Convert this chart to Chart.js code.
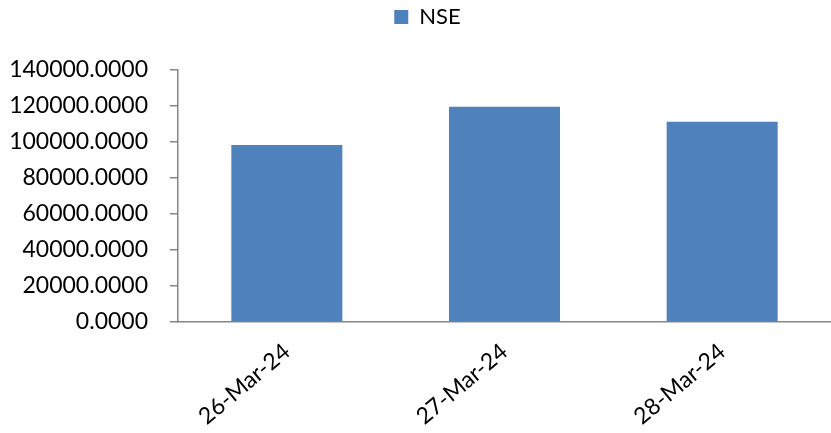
<!DOCTYPE html>
<html>
<head>
<meta charset="utf-8">
<script src="https://cdn.jsdelivr.net/npm/chart.js@4/dist/chart.umd.min.js"></script>
<style>
  html, body { margin: 0; padding: 0; background: #fff; }
  #wrap { width: 831px; height: 433px; }
</style>
</head>
<body>
<div id="wrap"><canvas id="c" width="831" height="433"></canvas></div>
<script>
// Trading dates and NSE values
const dates = ['26-Mar-24', '27-Mar-24', '28-Mar-24'];
const nseValues = [98300, 119600, 111300];
const seriesName = 'NSE';
const yTicks = [0, 20000, 40000, 60000, 80000, 100000, 120000, 140000];

const axisGrey = '#868686';
const barBlue = '#4F81BD';

// Fixed-height legend strip, drawn a little right of centre
const legendLayout = {
  id: 'legendLayout',
  beforeLayout(chart) {
    const legend = chart.legend;
    if (legend && !legend._fixedFit) {
      const origFit = legend.fit;
      legend.fit = function () {
        origFit.call(this);
        this.height = 70;
      };
      legend._fixedFit = true;
    }
  },
  beforeDraw(chart) {
    const legend = chart.legend;
    if (legend && !legend._shifted) {
      legend.left += 12;
      legend.right += 12;
      legend._shifted = true;
    }
  }
};

new Chart(document.getElementById('c'), {
  type: 'bar',
  plugins: [legendLayout],
  data: {
    labels: dates,
    datasets: [{
      label: seriesName,
      data: nseValues,
      backgroundColor: barBlue,
      borderWidth: 0,
      barPercentage: 0.51,
      categoryPercentage: 1.0
    }]
  },
  options: {
    responsive: false,
    animation: false,
    layout: { padding: { left: 0, right: 0, top: 0, bottom: 0 } },
    plugins: {
      tooltip: { enabled: false },
      legend: {
        position: 'top',
        labels: {
          boxWidth: 14,
          boxHeight: 14,
          padding: 6,
          color: '#000',
          font: { family: 'Lato', size: 22 }
        }
      }
    },
    scales: {
      x: {
        offset: true,
        afterFit: (scale) => { scale.height = 111; },
        grid: { display: true, drawOnChartArea: false, drawTicks: false },
        border: { display: true, color: axisGrey, width: 1.5 },
        ticks: {
          color: '#000',
          font: { family: 'Lato', size: 23 },
          minRotation: 40,
          maxRotation: 40,
          padding: 16
        }
      },
      y: {
        min: 0,
        max: 140000,
        afterFit: (scale) => { scale.width = 178; },
        afterBuildTicks: (scale) => { scale.ticks = yTicks.map(v => ({ value: v })); },
        grid: { display: true, drawOnChartArea: false, drawTicks: true, tickLength: 8, color: axisGrey, lineWidth: 1.5 },
        border: { display: true, color: axisGrey, width: 1.5 },
        ticks: {
          color: '#000',
          font: { family: 'Lato', size: 23 },
          padding: 22,
          callback: (v) => Number(v).toFixed(4)
        }
      }
    }
  }
});
</script>
</body>
</html>
